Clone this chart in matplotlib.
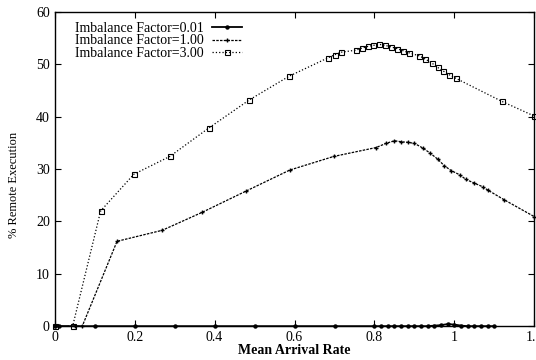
import matplotlib.pyplot as plt

plt.rcParams['font.family'] = ['Liberation Serif', 'DejaVu Serif']

# Imbalance Factor = 0.01 (stays near zero)
x001 = [0, 0.01, 0.1, 0.2, 0.3, 0.4, 0.5, 0.6, 0.7, 0.8, 0.817, 0.833, 0.85, 0.867,
        0.883, 0.9, 0.917, 0.933, 0.95, 0.967, 0.983, 1.0, 1.017, 1.033, 1.05,
        1.067, 1.083, 1.1]
y001 = [0, 0, 0, 0, 0, 0, 0, 0, 0, 0, 0, 0, 0, 0,
        0, 0, 0, 0, 0.1, 0.2, 0.4, 0.3, 0.1, 0, 0,
        0, 0, 0]

# Imbalance Factor = 1.00
x100 = [0, 0.05, 0.069, 0.156, 0.269, 0.368, 0.479, 0.588, 0.698, 0.804, 0.829,
        0.85, 0.867, 0.883, 0.9, 0.921, 0.938, 0.958, 0.975, 0.992, 1.013, 1.029,
        1.05, 1.071, 1.083, 1.125, 1.2]
y100 = [0, 0, 0, 16.2, 18.3, 21.7, 25.8, 29.8, 32.4, 34.1, 34.9,
        35.4, 35.2, 35.1, 34.9, 34.0, 33.1, 31.9, 30.6, 29.7, 28.9, 28.0,
        27.3, 26.6, 26.0, 24.1, 20.9]

# Imbalance Factor = 3.00
x300 = [0, 0.045, 0.115, 0.198, 0.288, 0.385, 0.487, 0.586, 0.683, 0.700, 0.717,
        0.754, 0.769, 0.783, 0.797, 0.812, 0.827, 0.842, 0.856, 0.871, 0.886,
        0.912, 0.927, 0.944, 0.958, 0.972, 0.987, 1.004, 1.119, 1.2]
y300 = [0, 0, 22.0, 29.0, 32.4, 37.8, 43.2, 47.7, 51.2, 51.8, 52.3,
        52.7, 53.1, 53.4, 53.6, 53.8, 53.6, 53.3, 53.0, 52.6, 52.2,
        51.6, 51.0, 50.2, 49.4, 48.7, 48.0, 47.3, 42.9, 40.1]

fig = plt.figure(figsize=(5.36, 3.6), dpi=100)
ax = fig.add_axes([0.102, 0.094, 0.895, 0.873])

ax.plot(x001, y001, 'k-', marker='o', markersize=2.2, linewidth=1.3,
        label='Imbalance Factor=0.01', clip_on=False)
ax.plot(x100, y100, 'k--', marker='+', markersize=3, linewidth=0.9,
        dashes=(2, 1), label='Imbalance Factor=1.00', clip_on=False)
ax.plot(x300, y300, 'k:', marker='s', markersize=3.6, markerfacecolor='none',
        markeredgewidth=0.8, linewidth=0.9, label='Imbalance Factor=3.00',
        clip_on=False)

ax.set_xlim(0, 1.2)
ax.set_ylim(0, 60)
ax.set_xticks([0, 0.2, 0.4, 0.6, 0.8, 1, 1.2])
ax.set_xticklabels(['0', '0.2', '0.4', '0.6', '0.8', '1', '1.2'])
ax.set_yticks([0, 10, 20, 30, 40, 50, 60])
ax.tick_params(direction='in', top=True, right=True, labelsize=10, length=4)
for s in ax.spines.values():
    s.set_linewidth(1.0)

ax.set_xlabel('Mean Arrival Rate', fontsize=10, labelpad=0, fontweight='bold')
ax.set_ylabel('% Remote Execution', fontsize=9)
ax.yaxis.set_label_coords(-0.072, 0.45)

ax.legend(loc='upper left', bbox_to_anchor=(0.03, 0.985), frameon=False,
          markerfirst=False, fontsize=10, handlelength=2.2, labelspacing=-0.05,
          borderaxespad=0, handletextpad=0.6)

plt.savefig('out.png', dpi=100)
